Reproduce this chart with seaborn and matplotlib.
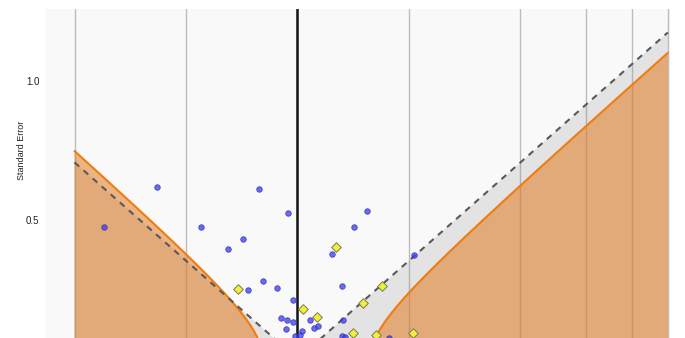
import numpy as np
import pandas as pd
import matplotlib
matplotlib.use("Agg")
import matplotlib.pyplot as plt
import seaborn as sns

# Study estimates: log odds ratio and its standard error
blue_logor = [-1.203, -0.873, -0.600, -0.432, -0.339, -0.239, -0.059, 0.432, 0.351, 0.214,
              0.724, -0.214, -0.308, -0.127, 0.277, -0.028, -0.103, -0.065, -0.028, 0.078,
              0.283, -0.071, 0.103, 0.127, 0.028, -0.016, 0.016, 0.277, 0.295, 0.569, 0.842]
blue_se = [0.475, 0.619, 0.475, 0.396, 0.432, 0.612, 0.525, 0.532, 0.475, 0.378,
           0.374, 0.281, 0.248, 0.255, 0.263, 0.212, 0.147, 0.140, 0.133, 0.140,
           0.140, 0.108, 0.112, 0.119, 0.101, 0.083, 0.086, 0.083, 0.079, 0.076, 0.061]

# Imputed (filled) studies
fill_logor = [-0.370, 0.239, 0.525, 0.407, 0.034, 0.121, 0.345, 0.488, 0.718]
fill_se = [0.252, 0.403, 0.263, 0.201, 0.180, 0.151, 0.094, 0.086, 0.094]

# Odds ratio gridlines (log scale)
or_ticks = [0.25, 0.5, 1, 2, 4, 6, 8, 10]
se_ticks = [0.5, 1.0]
se_tick_labels = ["0.5", "1.0"]

null_value = 0.0          # log(OR) = 0
pooled_center = 0.118     # centre of the prediction contour
tau = 0.171               # between-study SD
z = 1.96

df_obs = pd.DataFrame({"logor": blue_logor, "se": blue_se})
df_fill = pd.DataFrame({"logor": fill_logor, "se": fill_se})

sns.set_theme(style="whitegrid")
plt.rcParams["font.family"] = ["Liberation Sans", "DejaVu Sans"]

fig = plt.figure(figsize=(6.85, 3.38), dpi=100)
ax = fig.add_axes([45 / 685, -21 / 338, 625 / 685, 350 / 338])
ax.set_facecolor("#f9f9f9")
for s in ax.spines.values():
    s.set_visible(False)

x_lo, x_hi = np.log(or_ticks[0]), np.log(or_ticks[-1])

# region outside the 95% funnel around the null
gray = "#8c8c8c"
ax.fill([null_value, x_lo, x_lo], [0, (null_value - x_lo) / z, 0],
        color=gray, alpha=0.2, lw=0, zorder=2)
ax.fill([null_value, x_hi, x_hi], [0, (x_hi - null_value) / z, 0],
        color=gray, alpha=0.2, lw=0, zorder=2)

# region outside the prediction contour
def contour_side(sign, x_edge):
    se_max = np.sqrt(((x_edge - pooled_center) / (sign * z)) ** 2 - tau ** 2)
    se = np.linspace(0, se_max, 300)
    x = pooled_center + sign * z * np.sqrt(se ** 2 + tau ** 2)
    xs = np.concatenate([[x_edge], x, [x_edge]])
    ys = np.concatenate([[0], se, [se_max]])
    return xs, ys

orange_fill = "#e27a22"
orange_edge = "#f07c10"
for sign, edge in [(-1, x_lo), (1, x_hi)]:
    xs, ys = contour_side(sign, edge)
    ax.fill(xs, ys, facecolor=orange_fill, alpha=0.55, edgecolor="none", zorder=3)
    ax.plot(xs, ys, color=orange_edge, lw=1.5, zorder=3.5)

# 95% funnel lines
funnel = pd.DataFrame({"logor": [x_lo, null_value, x_hi],
                       "se": [(null_value - x_lo) / z, 0, (x_hi - null_value) / z]})
sns.lineplot(data=funnel, x="logor", y="se", ax=ax, sort=False, color="#595959",
             lw=1.5, zorder=4, estimator=None)
ax.lines[-1].set_dashes((3, 2.8))

ax.axvline(null_value, color="#151515", lw=1.8, zorder=4.5)

# observed studies
sns.scatterplot(data=df_obs, x="logor", y="se", ax=ax, marker="o", s=16,
                color="#3c3cf0", edgecolor="#2a2ab0", linewidth=0.6, alpha=0.75,
                zorder=4.8, legend=False)

# filled studies
sns.scatterplot(data=df_fill, x="logor", y="se", ax=ax, marker="D", s=24,
                color="#f0f03c", edgecolor="#7a7a55", linewidth=0.7, zorder=5, legend=False)

ax.set_xlim((45 - 297.5) / 160.86, (670 - 297.5) / 160.86)
ax.set_ylim(0, 1.259)
ax.set_xticks(np.log(or_ticks))
ax.set_xticklabels([])
ax.set_yticks(se_ticks)
ax.set_yticklabels(se_tick_labels)
ax.grid(axis="x", color="#bcbcbc", lw=1.0, zorder=0)
ax.grid(axis="y", visible=False)
ax.set_axisbelow(True)
ax.tick_params(axis="y", length=0, pad=4, labelsize=7, labelcolor="#222222")
ax.tick_params(axis="x", length=0)
ax.set_xlabel("")
ax.set_ylabel("Standard Error", fontsize=6.5, color="#222222")
ax.yaxis.set_label_coords(-19 / 625, (359 - 150) / 350)

fig.savefig("out.png", dpi=100)
